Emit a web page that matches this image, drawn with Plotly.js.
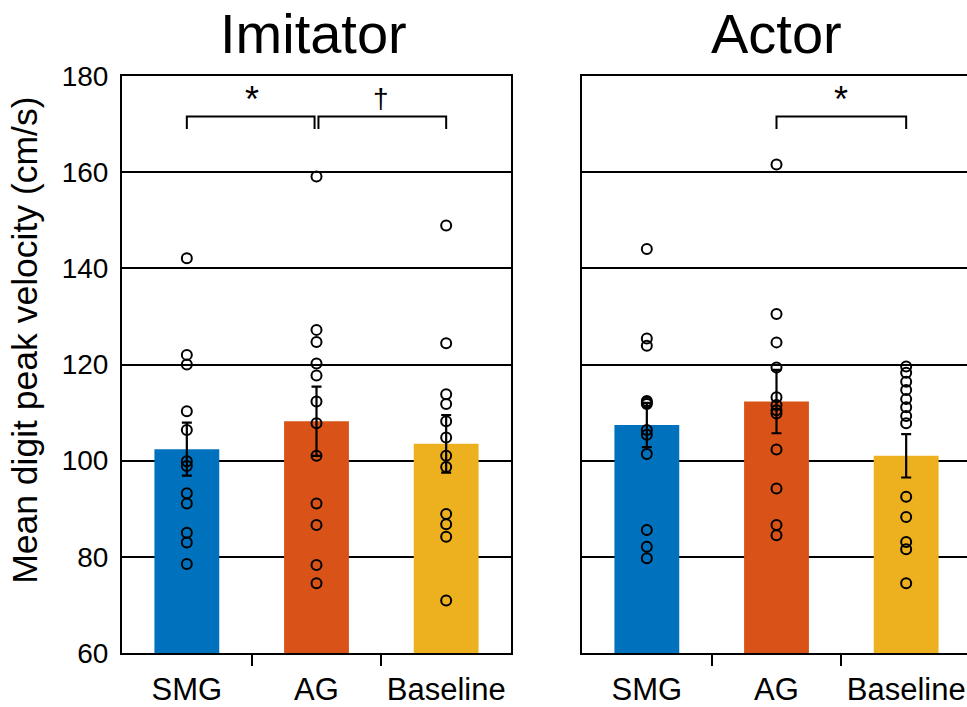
<!DOCTYPE html>
<html>
<head>
<meta charset="utf-8">
<script src="https://cdn.plot.ly/plotly-3.0.1.min.js"></script>
<style>
html,body{margin:0;padding:0;overflow:hidden;background:#fff;width:967px;height:707px;}
#chart{width:975px;height:707px;}
</style>
</head>
<body>
<div id="chart"></div>
<script>
// ---- data ----
const categories = ['SMG', 'AG', 'Baseline'];
const barColors = ['#0072BD', '#D95319', '#EDB120'];

const imitatorMeans = [102.4, 108.2, 103.5];
const imitatorErr   = [5.5, 7.2, 6.0];
const actorMeans    = [107.4, 112.3, 101.0];
const actorErr      = [4.6, 6.6, 4.5];

const imitatorSMG  = [142.1, 122.0, 120.0, 110.3, 106.4, 99.9, 98.9, 93.2, 91.1, 85.0, 83.0, 78.5];
const imitatorAG   = [159.1, 127.2, 124.7, 120.2, 117.7, 112.3, 107.8, 101.0, 91.1, 86.6, 78.3, 74.5];
const imitatorBase = [148.9, 124.4, 113.8, 111.8, 108.2, 104.8, 101.0, 98.7, 88.9, 86.8, 84.2, 70.9];

const actorSMG  = [144.0, 125.4, 123.9, 112.4, 112.1, 111.8, 106.4, 105.4, 101.4, 85.6, 82.1, 79.7];
const actorAG   = [161.6, 130.5, 124.6, 119.4, 113.2, 111.6, 110.5, 109.8, 102.3, 94.2, 86.6, 84.5];
const actorBase = [119.6, 118.3, 116.4, 114.7, 112.8, 111.1, 109.3, 107.8, 92.5, 88.3, 83.1, 81.6, 74.5];

const panelTitles = ['Imitator', 'Actor'];
const yTitle = 'Mean digit peak velocity (cm/s)';

// ---- build traces ----
const FONT = 'Liberation Sans, Arial, sans-serif';
const xpos = [1, 2, 3];

function barTrace(means, err, xa, ya) {
  return {
    type: 'bar', x: xpos, y: means, xaxis: xa, yaxis: ya,
    width: 0.5,
    marker: {color: barColors, line: {width: 0}},
    error_y: {type: 'data', array: err, visible: true, color: '#000', thickness: 2.2, width: 5},
    hoverinfo: 'skip', showlegend: false
  };
}
function pointTrace(vals, idx, xa, ya) {
  return {
    type: 'scatter', mode: 'markers',
    x: vals.map(() => xpos[idx]), y: vals, xaxis: xa, yaxis: ya,
    marker: {symbol: 'circle-open', size: 10, color: '#000', line: {width: 2, color: '#000'}},
    hoverinfo: 'skip', showlegend: false, cliponaxis: false
  };
}

const traces = [
  barTrace(imitatorMeans, imitatorErr, 'x', 'y'),
  pointTrace(imitatorSMG, 0, 'x', 'y'),
  pointTrace(imitatorAG, 1, 'x', 'y'),
  pointTrace(imitatorBase, 2, 'x', 'y'),
  barTrace(actorMeans, actorErr, 'x2', 'y2'),
  pointTrace(actorSMG, 0, 'x2', 'y2'),
  pointTrace(actorAG, 1, 'x2', 'y2'),
  pointTrace(actorBase, 2, 'x2', 'y2')
];

const W = 975;
function xAxis(domain, anchor) {
  return {
    domain: domain, anchor: anchor, range: [0.5, 3.5],
    tickmode: 'array', tickvals: xpos, ticktext: categories,
    ticks: '', showgrid: false, zeroline: false,
    showline: true, linecolor: '#000', linewidth: 2, mirror: true,
    tickfont: {family: FONT, size: 31, color: '#000'},
    ticklabelstandoff: 8,
    minor: {tickmode: 'array', tickvals: [1.5, 2.5], ticks: 'outside', ticklen: 11, tickwidth: 2, tickcolor: '#000', showgrid: false}
  };
}
function yAxis(anchor, labels) {
  return {
    anchor: anchor, domain: [0, 1], range: [60, 180],
    tickmode: 'linear', tick0: 60, dtick: 20,
    showticklabels: labels, ticks: '',
    showgrid: true, gridcolor: '#000', gridwidth: 2,
    zeroline: false,
    showline: true, linecolor: '#000', linewidth: 2, mirror: true,
    tickfont: {family: FONT, size: 28, color: '#000'},
    ticklabelstandoff: 6
  };
}

const sigLine = {color: '#000', width: 2};
function bracket(xref, yref, x0, x1) {
  return {type: 'path', xref: xref, yref: yref,
    path: `M ${x0} 169 L ${x0} 171.6 L ${x1} 171.6 L ${x1} 169`, line: sigLine};
}

const layout = {
  width: W, height: 707,
  margin: {l: 0, r: 0, t: 76, b: 54},
  paper_bgcolor: '#fff', plot_bgcolor: '#fff',
  font: {family: FONT, color: '#000'},
  showlegend: false,
  xaxis: xAxis([122 / W, 511 / W], 'y'),
  yaxis: yAxis('x', true),
  xaxis2: xAxis([582 / W, 971 / W], 'y2'),
  yaxis2: yAxis('x2', false),
  shapes: [
    bracket('x', 'y', 1.0, 1.985),
    bracket('x', 'y', 2.015, 3.0),
    bracket('x2', 'y2', 2.0, 3.0)
  ],
  annotations: [
    {text: panelTitles[0], xref: 'paper', yref: 'paper', x: 313 / W, y: 1, xanchor: 'center', yanchor: 'bottom', yshift: 9, showarrow: false, font: {family: FONT, size: 56, color: '#000'}},
    {text: panelTitles[1], xref: 'paper', yref: 'paper', x: 776.5 / W, y: 1, xanchor: 'center', yanchor: 'bottom', yshift: 9, showarrow: false, font: {family: FONT, size: 56, color: '#000'}},
    {text: yTitle, xref: 'paper', yref: 'paper', x: 25 / W, y: 0.541, xanchor: 'center', yanchor: 'middle', textangle: -90, showarrow: false, font: {family: FONT, size: 35.5, color: '#000'}},
    {text: '*', xref: 'x', yref: 'y', x: 1.5, y: 171.6, yanchor: 'bottom', yshift: -6, showarrow: false, font: {family: FONT, size: 36, color: '#000'}},
    {text: '†', xref: 'x', yref: 'y', x: 2.5, y: 171.6, yanchor: 'bottom', yshift: 0, showarrow: false, font: {family: FONT, size: 28, color: '#000'}},
    {text: '*', xref: 'x2', yref: 'y2', x: 2.5, y: 171.6, yanchor: 'bottom', yshift: -6, showarrow: false, font: {family: FONT, size: 36, color: '#000'}}
  ]
};

Plotly.newPlot('chart', traces, layout, {displayModeBar: false, staticPlot: true});
</script>
</body>
</html>
